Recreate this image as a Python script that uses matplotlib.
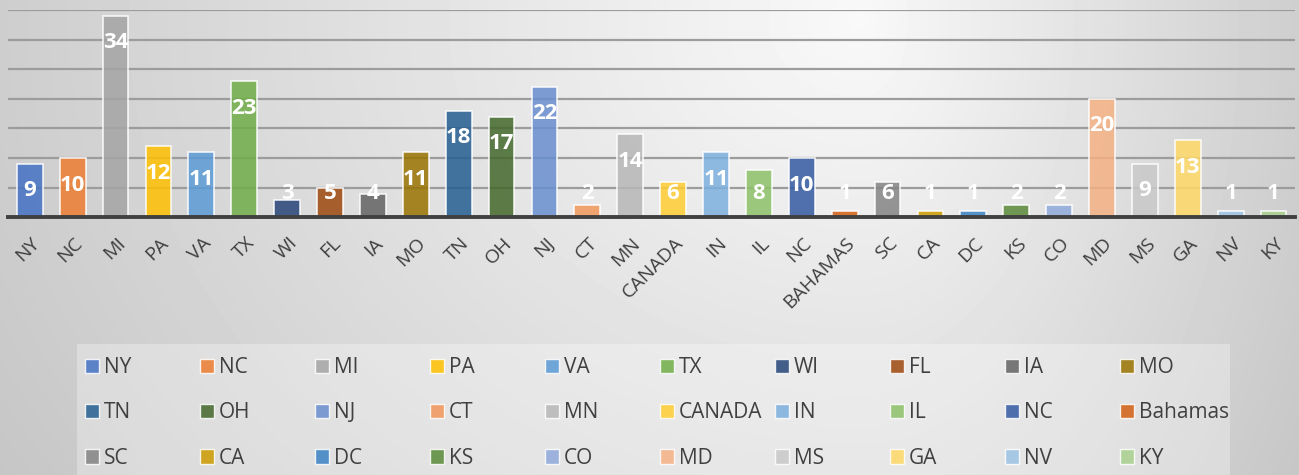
import numpy as np
import matplotlib
matplotlib.use("Agg")
import matplotlib.pyplot as plt
from matplotlib.patches import Patch, Rectangle
from matplotlib.transforms import ScaledTranslation

# ---- data ----
categories = ["NY", "NC", "MI", "PA", "VA", "TX", "WI", "FL", "IA", "MO",
              "TN", "OH", "NJ", "CT", "MN", "CANADA", "IN", "IL", "NC", "BAHAMAS",
              "SC", "CA", "DC", "KS", "CO", "MD", "MS", "GA", "NV", "KY"]
series_names = ["NY", "NC", "MI", "PA", "VA", "TX", "WI", "FL", "IA", "MO",
                "TN", "OH", "NJ", "CT", "MN", "CANADA", "IN", "IL", "NC", "Bahamas",
                "SC", "CA", "DC", "KS", "CO", "MD", "MS", "GA", "NV", "KY"]
values = [9, 10, 34, 12, 11, 23, 3, 5, 4, 11,
          18, 17, 22, 2, 14, 6, 11, 8, 10, 1,
          6, 1, 1, 2, 2, 20, 9, 13, 1, 1]
colors = ["#4472C4", "#ED7D31", "#A5A5A5", "#FFC000", "#5B9BD5", "#70AD47",
          "#264478", "#9E480E", "#636363", "#997300", "#255E91", "#43682B",
          "#698ED0", "#F1975A", "#B7B7B7", "#FFCD33", "#7CAFDD", "#8CC168",
          "#335AA1", "#D26012", "#848484", "#CC9A00", "#3A82C4", "#5A8A39",
          "#8FAADC", "#F4B183", "#C9C9C9", "#FFD966", "#9DC3E6", "#A9D18E"]

plt.rcParams['font.family'] = ['Open Sans', 'DejaVu Sans']

W, H = 1299, 475
fig = plt.figure(figsize=(W / 100, H / 100), dpi=100)

# ---- background gradient ----
bg = fig.add_axes([0, 0, 1, 1], zorder=-10)
yy, xx = np.mgrid[0:H, 0:W]
cx, cy = 860.0, 20.0
sx = np.where(xx < cx, 870.0, 450.0)
r = np.sqrt(((xx - cx) / sx) ** 2 + ((yy - cy) / 720.0) ** 2)
v = np.clip(0.975 - 0.17 * r, 0, 1)
bg.imshow(v, cmap="gray", vmin=0, vmax=1, aspect="auto", extent=[0, W, H, 0])
bg.set_xlim(0, W)
bg.set_ylim(H, 0)
bg.axis("off")

# ---- main axes ----
x0, x1 = 8.3, 1295.0
ybase, ytop = 217.3, 10.0
ax = fig.add_axes([x0 / W, (H - ybase) / H, (x1 - x0) / W, (ybase - ytop) / H])
ax.set_facecolor("none")
x = np.arange(len(categories))
ax.set_xlim(-0.5, len(categories) - 0.5)
ax.set_ylim(0, 35)
ax.set_yticks(np.arange(5, 36, 5))
ax.yaxis.grid(True, color="#9C9C9C", linewidth=1.6, zorder=0)
ax.set_axisbelow(True)
for s in ax.spines.values():
    s.set_visible(False)
ax.tick_params(axis="y", left=False, labelleft=False)

ax.bar(x, values, width=0.6, color=colors, alpha=0.85,
       edgecolor=(1, 1, 1, 0.55), linewidth=1.2, zorder=2)
ax.axhline(0, color="#404040", linewidth=2.8, zorder=3, clip_on=False)

for xi, vi in zip(x, values):
    ax.text(xi, max(vi - 4.55, 4.1), str(vi), ha="center", va="center",
            color="white", fontsize=16, fontweight="bold", zorder=4)

ax.set_xticks(x)
ax.set_xticklabels(categories, rotation=45, ha="right", va="top",
                   rotation_mode="anchor", fontsize=14, color="#404040")
ax.tick_params(axis="x", length=0, pad=12)
shift = ScaledTranslation(1 / 100, 0, fig.dpi_scale_trans)
for lbl in ax.get_xticklabels():
    lbl.set_transform(lbl.get_transform() + shift)

# ---- legend ----
lx0, lx1, ly0 = 77, 1230, 344
fig.patches.append(Rectangle((lx0 / W, 0), (lx1 - lx0) / W, (H - ly0) / H,
                             transform=fig.transFigure, facecolor="white",
                             alpha=0.3, edgecolor="none", zorder=-5))
ncols = 10
for j in range(ncols):
    idx = [j, j + 10, j + 20]
    handles = [Patch(facecolor=colors[i], alpha=0.85, edgecolor=(1, 1, 1, 0.6),
                     linewidth=1.0) for i in idx]
    labels = [series_names[i] for i in idx]
    fig.legend(handles, labels, loc="upper left",
               bbox_to_anchor=((85 + 115 * j) / W, (H - 357) / H),
               frameon=False, fontsize=15, ncol=1,
               handlelength=0.67, handleheight=0.67, handletextpad=0.25,
               labelspacing=1.17, borderpad=0, borderaxespad=0,
               labelcolor="#404040")

fig.savefig("out.png", dpi=100)
